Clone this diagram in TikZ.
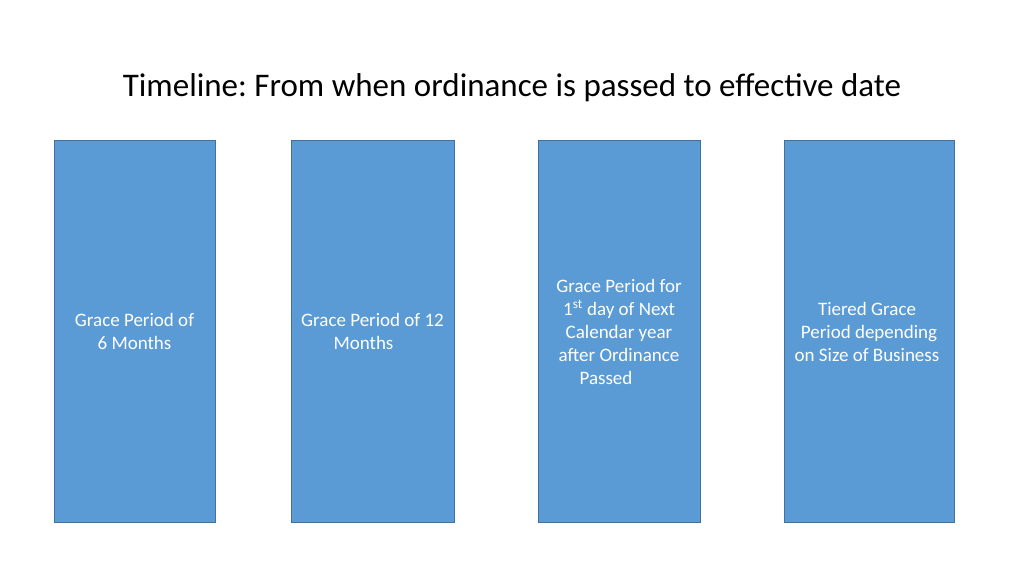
\documentclass[tikz,border=0pt]{standalone}
\usepackage{fontspec}
\setmainfont{Carlito}
\frenchspacing
\definecolor{boxfill}{HTML}{5B9BD5}
\definecolor{boxline}{HTML}{41719C}
\begin{document}
\begin{tikzpicture}[x=1pt,y=1pt,
  gbox/.style={draw=boxline, line width=1pt, fill=boxfill, minimum height=381pt, inner sep=0pt,
    text=white, align=center, font=\fontsize{19}{23}\selectfont},
  title/.style={font=\fontsize{33}{38}\selectfont, text=black}]
\useasboundingbox (0,0) rectangle (1024,576);
\node[title] (t) at (512,488) {Timeline: From when ordinance is passed to effective date};
\node[gbox, minimum width=161pt] (b1) at (134.5,244.5) {Grace Period of\\6 Months};
\node[gbox, minimum width=163pt] (b2) at (372.5,244.5) {Grace Period of 12\\Months\hspace*{18pt}};
\node[gbox, minimum width=162pt] (b3) at (619,244.5) {Grace Period for\\1\textsuperscript{st} day of Next\\Calendar year\\after Ordinance\\Passed\hspace*{26pt}};
\node[gbox, minimum width=170pt] (b4) at (869,244.5) {Tiered Grace\hspace*{4pt}\\Period depending\hspace*{4pt}\\on Size of Business\hspace*{4pt}};
\end{tikzpicture}
\end{document}
